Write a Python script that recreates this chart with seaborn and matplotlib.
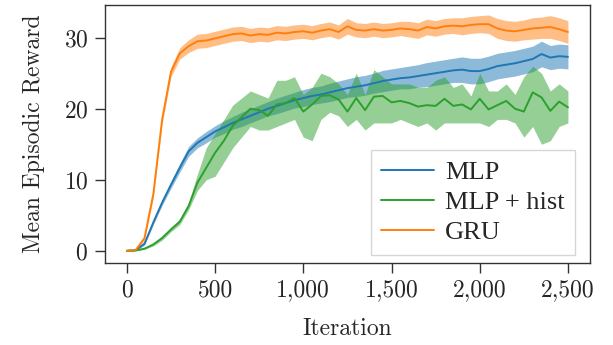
import numpy as np
import pandas as pd
import seaborn as sns
import matplotlib.pyplot as plt
from matplotlib.ticker import FuncFormatter

# iterations (sampled every 50)
iterations = list(range(0, 2501, 50))

# GRU mean reward and band half-width
gru_mean = [0.0, 0.1, 1.8, 8.0, 18.5, 25.2, 27.8, 28.8, 29.5, 29.6,
            29.9, 30.2, 30.5, 30.6, 30.3, 30.5, 30.4, 30.7, 30.6, 30.8,
            30.9, 30.7, 31.0, 31.2, 30.8, 31.6, 31.1, 31.0, 31.2, 31.0,
            31.1, 31.3, 31.2, 31.0, 31.5, 31.3, 31.6, 31.7, 31.6, 31.8,
            31.9, 31.9, 31.3, 31.0, 30.9, 31.1, 31.3, 31.4, 31.5, 31.2,
            30.8]
gru_band = [0.05, 0.1, 0.3, 0.5, 0.6, 0.7, 0.8, 0.9, 1.0, 1.0,
            1.0, 1.0, 1.0, 1.0, 1.0, 1.0, 1.0, 1.0, 1.0, 1.0,
            1.0, 1.0, 1.0, 1.0, 1.0, 1.1, 1.0, 1.0, 1.0, 1.0,
            1.0, 1.0, 1.1, 1.1, 1.1, 1.1, 1.1, 1.1, 1.2, 1.2,
            1.2, 1.3, 1.4, 1.4, 1.4, 1.4, 1.5, 1.5, 1.6, 1.6,
            1.6]

# MLP mean reward and band half-width
mlp_mean = [0.0, 0.1, 1.0, 4.0, 6.8, 9.3, 11.7, 14.0, 15.2, 16.0,
            16.8, 17.4, 18.0, 18.5, 19.0, 19.5, 20.0, 20.4, 20.8, 21.2,
            21.5, 21.8, 22.0, 22.3, 22.6, 22.9, 23.1, 23.3, 23.6, 23.9,
            24.1, 24.3, 24.4, 24.6, 24.8, 25.0, 25.2, 25.4, 25.5, 25.3,
            25.3, 25.6, 26.0, 26.2, 26.4, 26.7, 27.0, 27.7, 27.2, 27.4,
            27.3]
mlp_band = [0.05, 0.1, 0.2, 0.3, 0.4, 0.5, 0.6, 0.7, 0.7, 0.8,
            0.8, 0.9, 0.9, 1.0, 1.0, 1.0, 1.0, 1.1, 1.1, 1.1,
            1.2, 1.2, 1.2, 1.3, 1.3, 1.3, 1.4, 1.4, 1.4, 1.5,
            1.5, 1.5, 1.6, 1.6, 1.7, 1.7, 1.7, 1.7, 1.8, 1.8,
            1.8, 1.8, 1.8, 1.8, 1.8, 1.8, 1.8, 1.8, 1.7, 1.7,
            1.7]

# MLP + hist mean reward and band bounds
hist_mean = [0.0, 0.05, 0.3, 0.9, 1.8, 3.0, 4.1, 6.3, 9.6, 11.7,
             13.8, 15.5, 17.6, 18.8, 20.0, 19.8, 19.0, 20.6, 20.8, 21.5,
             19.6, 20.6, 21.8, 21.9, 21.3, 19.6, 21.5, 19.8, 21.7, 21.8,
             20.9, 21.1, 20.8, 20.3, 20.5, 20.4, 21.4, 20.4, 20.6, 19.9,
             21.4, 19.9, 20.5, 21.1, 20.0, 19.6, 22.3, 21.6, 19.7, 21.0,
             20.2]
hist_low = [0.0, 0.0, 0.2, 0.7, 1.5, 2.7, 3.7, 5.8, 8.5, 10.0,
            10.5, 12.5, 14.5, 16.0, 17.5, 17.0, 17.0, 17.5, 18.0, 18.5,
            16.0, 15.5, 18.5, 19.5, 19.0, 17.5, 18.5, 17.0, 18.0, 18.0,
            18.0, 18.5, 18.0, 17.5, 18.0, 17.0, 18.0, 18.0, 18.0, 18.0,
            18.0, 17.5, 18.5, 18.5, 18.0, 16.0, 17.5, 15.0, 15.5, 17.5,
            18.0]
hist_high = [0.0, 0.1, 0.4, 1.1, 2.1, 3.3, 4.5, 6.8, 10.8, 14.5,
             16.5, 18.5, 20.5, 21.5, 22.5, 22.0, 21.5, 24.0, 24.0, 24.5,
             22.0, 23.0, 25.0, 24.5, 23.5, 22.0, 25.0, 22.0, 25.5, 24.5,
             23.5, 23.5, 23.5, 23.0, 23.0, 24.0, 24.5, 23.0, 23.5, 21.8,
             25.0, 22.5, 22.5, 23.5, 22.0, 24.5, 26.0, 25.0, 22.5, 23.5,
             22.5]

labels = ['MLP', 'MLP + hist', 'GRU']
colors = ['#1f77b4', '#2ca02c', '#ff7f0e']

df = pd.DataFrame({
    'Iteration': iterations * 3,
    'Reward': mlp_mean + hist_mean + gru_mean,
    'Model': [labels[0]] * len(iterations) + [labels[1]] * len(iterations)
             + [labels[2]] * len(iterations),
})

sns.set_style('white')
plt.rcParams['font.family'] = ['cmr10', 'DejaVu Serif']
plt.rcParams['axes.formatter.use_mathtext'] = True

fig = plt.figure(figsize=(6.13, 3.45), dpi=100)
ax = fig.add_axes([0.171, 0.238, 0.7915, 0.7475])

lows = [np.array(mlp_mean) - np.array(mlp_band), hist_low,
        np.array(gru_mean) - np.array(gru_band)]
highs = [np.array(mlp_mean) + np.array(mlp_band), hist_high,
         np.array(gru_mean) + np.array(gru_band)]
for lo, hi, c in zip(lows, highs, colors):
    ax.fill_between(iterations, lo, hi, color=c, alpha=0.5, linewidth=0)

sns.lineplot(data=df, x='Iteration', y='Reward', hue='Model',
             hue_order=labels, palette=colors, linewidth=1.4, ax=ax)

ax.set_xlim(-125, 2625)
ax.set_ylim(-1.7, 34.6)
ax.set_xticks([0, 500, 1000, 1500, 2000, 2500])
ax.set_yticks([0, 10, 20, 30])
ax.xaxis.set_major_formatter(FuncFormatter(lambda v, p: f'{v:,.0f}'))
ax.tick_params(axis='both', direction='out', length=7, width=1,
               color='#333333', labelsize=17, left=True, bottom=True,
               pad=5)
ax.set_xlabel('Iteration', fontsize=17, labelpad=12)
ax.set_ylabel('Mean Episodic Reward', fontsize=17, labelpad=13)
for s in ax.spines.values():
    s.set_color('#333333')
    s.set_linewidth(1.0)

leg = ax.legend(loc='lower right', bbox_to_anchor=(0.969, 0.031),
                borderaxespad=0,
                prop={'family': 'Liberation Serif', 'size': 19},
                frameon=True, fancybox=False, handlelength=2.0,
                handletextpad=0.4, labelspacing=0.25, borderpad=0.4)
leg.get_frame().set_edgecolor('#cccccc')
leg.get_frame().set_linewidth(1.0)

fig.savefig('out.png', dpi=100)
